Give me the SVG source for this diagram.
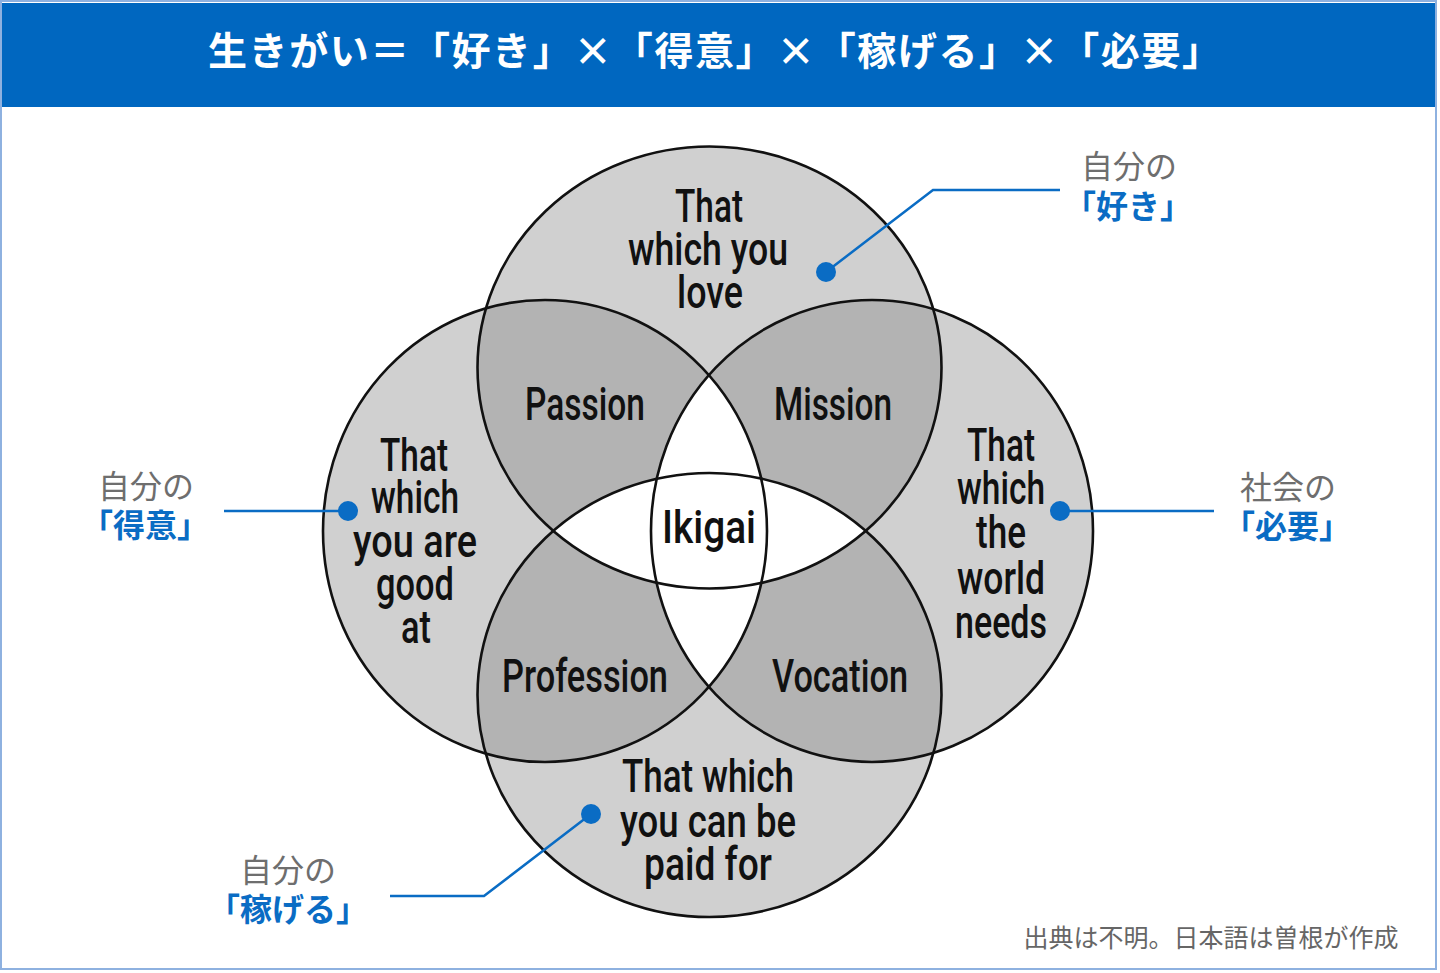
<svg xmlns="http://www.w3.org/2000/svg" width="1440" height="973" viewBox="0 0 1440 973">
<style>
.en{font-family:Roboto,"Liberation Sans",Arial,sans-serif;font-size:47px;font-weight:500;fill:#111;text-anchor:middle}
.ol{fill:none;stroke:#111;stroke-width:2.6}
.jg{font-family:"Noto Sans CJK JP",sans-serif;font-size:32px;fill:#6e6e6e;text-anchor:middle}
.jb{font-family:"Noto Sans CJK JP",sans-serif;font-size:32px;font-weight:bold;fill:#0a6cc4;text-anchor:middle}
.ln{fill:none;stroke:#0a6cc4;stroke-width:2.5}
.dot{fill:#0a6cc4}
</style>
<defs>
<clipPath id="cT"><ellipse cx="709.5" cy="367.5" rx="232" ry="221"/></clipPath>
<clipPath id="cB"><ellipse cx="709.5" cy="695" rx="232" ry="222"/></clipPath>
<clipPath id="cL"><ellipse cx="545" cy="531" rx="222" ry="231"/></clipPath>
<clipPath id="cR"><ellipse cx="872" cy="531" rx="221" ry="231"/></clipPath>
</defs>
<rect x="0" y="0" width="1440" height="973" fill="#fff"/>
<rect x="1" y="1" width="1435" height="968" fill="none" stroke="#8eb1e0" stroke-width="2"/>
<g id="header">
<rect x="2" y="3" width="1433" height="104" fill="#0067c0"/>
<text x="208" y="65" font-family="Noto Sans CJK JP,sans-serif" font-size="39" font-weight="bold" fill="#fff" textLength="1013" lengthAdjust="spacing">生きがい＝「好き」×「得意」×「稼げる」×「必要」</text>
</g>
<g id="fills">
<ellipse cx="709.5" cy="367.5" rx="232" ry="221" fill="#d0d0d0"/>
<ellipse cx="709.5" cy="695" rx="232" ry="222" fill="#d0d0d0"/>
<ellipse cx="545" cy="531" rx="222" ry="231" fill="#d0d0d0"/>
<ellipse cx="872" cy="531" rx="221" ry="231" fill="#d0d0d0"/>
<ellipse cx="709.5" cy="367.5" rx="232" ry="221" fill="#b3b3b3" clip-path="url(#cL)"/>
<ellipse cx="709.5" cy="367.5" rx="232" ry="221" fill="#b3b3b3" clip-path="url(#cR)"/>
<ellipse cx="709.5" cy="695" rx="232" ry="222" fill="#b3b3b3" clip-path="url(#cL)"/>
<ellipse cx="709.5" cy="695" rx="232" ry="222" fill="#b3b3b3" clip-path="url(#cR)"/>
<ellipse cx="545" cy="531" rx="222" ry="231" fill="#fff" clip-path="url(#cR)"/>
<ellipse cx="709.5" cy="367.5" rx="232" ry="221" fill="#fff" clip-path="url(#cB)"/>
</g>
<g id="love">
<ellipse class="ol" cx="709.5" cy="367.5" rx="232" ry="221"/>
<text class="en" x="709" y="222" textLength="68" lengthAdjust="spacingAndGlyphs">That</text>
<text class="en" x="708" y="265" textLength="160" lengthAdjust="spacingAndGlyphs">which you</text>
<text class="en" x="710" y="308" textLength="66" lengthAdjust="spacingAndGlyphs">love</text>
</g>
<g id="paid">
<ellipse class="ol" cx="709.5" cy="695" rx="232" ry="222"/>
<text class="en" x="708" y="792" textLength="172" lengthAdjust="spacingAndGlyphs">That which</text>
<text class="en" x="708" y="837" textLength="176" lengthAdjust="spacingAndGlyphs">you can be</text>
<text class="en" x="708" y="880" textLength="128" lengthAdjust="spacingAndGlyphs">paid for</text>
</g>
<g id="good">
<ellipse class="ol" cx="545" cy="531" rx="222" ry="231"/>
<text class="en" x="414" y="471" textLength="68" lengthAdjust="spacingAndGlyphs">That</text>
<text class="en" x="415" y="513" textLength="88" lengthAdjust="spacingAndGlyphs">which</text>
<text class="en" x="415" y="557" textLength="124" lengthAdjust="spacingAndGlyphs">you are</text>
<text class="en" x="415" y="600" textLength="78" lengthAdjust="spacingAndGlyphs">good</text>
<text class="en" x="416" y="643" textLength="30" lengthAdjust="spacingAndGlyphs">at</text>
</g>
<g id="needs">
<ellipse class="ol" cx="872" cy="531" rx="221" ry="231"/>
<text class="en" x="1001" y="461" textLength="68" lengthAdjust="spacingAndGlyphs">That</text>
<text class="en" x="1001" y="504" textLength="88" lengthAdjust="spacingAndGlyphs">which</text>
<text class="en" x="1001" y="548" textLength="50" lengthAdjust="spacingAndGlyphs">the</text>
<text class="en" x="1001" y="594" textLength="88" lengthAdjust="spacingAndGlyphs">world</text>
<text class="en" x="1001" y="638" textLength="92" lengthAdjust="spacingAndGlyphs">needs</text>
</g>
<g id="passion"><text class="en" x="585" y="420" textLength="120" lengthAdjust="spacingAndGlyphs">Passion</text></g>
<g id="mission"><text class="en" x="833" y="420" textLength="118" lengthAdjust="spacingAndGlyphs">Mission</text></g>
<g id="profession"><text class="en" x="585" y="692" textLength="166" lengthAdjust="spacingAndGlyphs">Profession</text></g>
<g id="vocation"><text class="en" x="840" y="692" textLength="136" lengthAdjust="spacingAndGlyphs">Vocation</text></g>
<g id="ikigai"><text class="en" x="709" y="543" textLength="94" lengthAdjust="spacingAndGlyphs">Ikigai</text></g>
<g id="connectors">
<polyline class="ln" points="1060,190 933,190 826,272"/>
<circle class="dot" cx="826" cy="272" r="10"/>
<line class="ln" x1="224" y1="511" x2="348" y2="511"/>
<circle class="dot" cx="348" cy="511" r="10"/>
<line class="ln" x1="1214" y1="511" x2="1060" y2="511"/>
<circle class="dot" cx="1060" cy="511" r="10"/>
<polyline class="ln" points="390,896 484,896 591,814"/>
<circle class="dot" cx="591" cy="814" r="10"/>
</g>
<g id="label-love">
<text class="jg" x="1129" y="178">自分の</text>
<text class="jb" x="1128" y="218">「好き」</text>
</g>
<g id="label-good">
<text class="jg" x="146" y="498">自分の</text>
<text class="jb" x="145" y="537">「得意」</text>
</g>
<g id="label-needs">
<text class="jg" x="1288" y="499">社会の</text>
<text class="jb" x="1287" y="538">「必要」</text>
</g>
<g id="label-paid">
<text class="jg" x="288" y="882">自分の</text>
<text class="jb" x="288" y="921">「稼げる」</text>
</g>
<text x="1211" y="947" font-family="Noto Sans CJK JP,sans-serif" font-size="25" fill="#666" text-anchor="middle">出典は不明。日本語は曽根が作成</text>
</svg>
